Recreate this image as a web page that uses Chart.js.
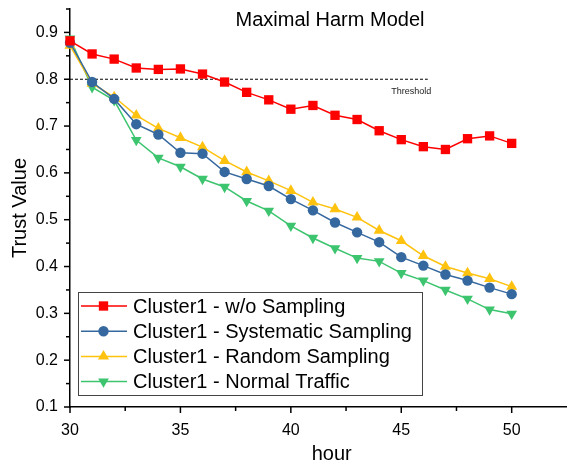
<!DOCTYPE html>
<html>
<head>
<meta charset="utf-8">
<title>Maximal Harm Model</title>
<script src="https://cdn.jsdelivr.net/npm/chart.js@4.4.1/dist/chart.umd.min.js"></script>
<style>
  html, body { margin: 0; padding: 0; background: #fff; overflow: hidden; }
  #wrap { width: 600px; height: 466px; }
</style>
</head>
<body>
<div id="wrap"><canvas id="trustChart" width="600" height="466"></canvas></div>
<script>
// hours on the x axis
const hours = [30, 31, 32, 33, 34, 35, 36, 37, 38, 39, 40, 41, 42, 43, 44, 45, 46, 47, 48, 49, 50];

// trust values
const woSampling = [0.882, 0.854, 0.843, 0.824, 0.821, 0.822, 0.811, 0.794, 0.772, 0.756, 0.736, 0.744, 0.723, 0.714, 0.690, 0.671, 0.656, 0.650, 0.673, 0.679, 0.663];
const systematicSampling = [0.878, 0.794, 0.758, 0.704, 0.682, 0.643, 0.641, 0.602, 0.587, 0.572, 0.544, 0.520, 0.494, 0.473, 0.452, 0.420, 0.402, 0.383, 0.370, 0.355, 0.341];
const randomSampling = [0.872, 0.791, 0.762, 0.723, 0.695, 0.675, 0.655, 0.626, 0.602, 0.583, 0.562, 0.537, 0.523, 0.505, 0.477, 0.455, 0.423, 0.400, 0.386, 0.374, 0.357];
const normalTraffic = [0.887, 0.783, 0.755, 0.670, 0.632, 0.613, 0.587, 0.570, 0.540, 0.519, 0.487, 0.461, 0.439, 0.418, 0.411, 0.386, 0.370, 0.350, 0.331, 0.308, 0.299];

// threshold line
const thresholdX = [30, 46.2];
const thresholdY = [0.8, 0.8];

const seriesLabels = [
  'Cluster1 - w/o Sampling',
  'Cluster1 - Systematic Sampling',
  'Cluster1 - Random Sampling',
  'Cluster1 - Normal Traffic'
];

const FONT = "'Liberation Sans', Arial, sans-serif";

function toPoints(xs, ys) {
  return xs.map((x, i) => ({ x: x, y: ys[i] }));
}

function series(label, values, color, style, radius, rotation) {
  return {
    label: label,
    data: toPoints(hours, values),
    borderColor: color,
    backgroundColor: color,
    borderWidth: 1.5,
    pointStyle: style,
    pointRadius: radius,
    pointRotation: rotation || 0,
    pointBorderWidth: 0,
    pointBackgroundColor: color,
    clip: false,
    tension: 0
  };
}

// legend marker, same shapes as chart.js draws for the points
function marker(ctx, ds, x, y) {
  const r = ds.pointRadius;
  ctx.fillStyle = ds.pointBackgroundColor;
  ctx.beginPath();
  if (ds.pointStyle === 'rect') {
    const s = Math.SQRT1_2 * r;
    ctx.rect(x - s, y - s, 2 * s, 2 * s);
  } else if (ds.pointStyle === 'circle') {
    ctx.arc(x, y, r, 0, Math.PI * 2);
  } else {
    const rot = (ds.pointRotation || 0) * Math.PI / 180;
    for (let k = 0; k < 3; k++) {
      const a = rot + k * 2 * Math.PI / 3;
      const px = x + Math.sin(a) * r;
      const py = y - Math.cos(a) * r;
      if (k === 0) ctx.moveTo(px, py); else ctx.lineTo(px, py);
    }
    ctx.closePath();
  }
  ctx.fill();
}

const extrasPlugin = {
  id: 'extras',
  afterDraw(chart) {
    const ctx = chart.ctx;
    const area = chart.chartArea;
    const xs = chart.scales.x;
    const ys = chart.scales.y;
    ctx.save();

    // tick marks, long on labelled ticks
    ctx.strokeStyle = '#000';
    ctx.lineWidth = 1.5;
    xs.ticks.forEach(t => {
      const px = xs.getPixelForValue(t.value);
      const major = Math.abs(t.value / 5 - Math.round(t.value / 5)) < 1e-6;
      ctx.beginPath();
      ctx.moveTo(px, area.bottom);
      ctx.lineTo(px, area.bottom + (major ? 6 : 4));
      ctx.stroke();
    });
    ys.ticks.forEach(t => {
      const py = ys.getPixelForValue(t.value);
      const major = Math.round(t.value * 100) % 10 === 0;
      ctx.beginPath();
      ctx.moveTo(area.left, py);
      ctx.lineTo(area.left - (major ? 6 : 4), py);
      ctx.stroke();
    });

    // chart title
    ctx.fillStyle = '#000';
    ctx.font = '20px ' + FONT;
    ctx.textAlign = 'center';
    ctx.textBaseline = 'alphabetic';
    ctx.fillText('Maximal Harm Model', 330, 26);

    // threshold label
    const tx = xs.getPixelForValue(thresholdX[1]);
    const ty = ys.getPixelForValue(thresholdY[1]);
    ctx.font = '9px ' + FONT;
    ctx.fillStyle = '#222';
    ctx.textAlign = 'right';
    ctx.textBaseline = 'middle';
    ctx.fillText('Threshold', tx + 3.5, ty + 12);

    // legend box
    const box = { left: 78.5, top: 292.5, right: 422.5, bottom: 395.5 };
    ctx.fillStyle = '#fff';
    ctx.fillRect(box.left, box.top, box.right - box.left, box.bottom - box.top);
    ctx.strokeStyle = '#444';
    ctx.lineWidth = 1;
    ctx.strokeRect(box.left, box.top, box.right - box.left, box.bottom - box.top);

    ctx.font = '20px ' + FONT;
    ctx.textAlign = 'left';
    ctx.textBaseline = 'middle';
    for (let i = 0; i < 4; i++) {
      const ds = chart.data.datasets[i];
      const rowY = 306 + i * 25.2;
      ctx.strokeStyle = ds.borderColor;
      ctx.lineWidth = 1.5;
      ctx.beginPath();
      ctx.moveTo(81, rowY);
      ctx.lineTo(127, rowY);
      ctx.stroke();
      marker(ctx, ds, 103.5, rowY);
      ctx.fillStyle = '#000';
      ctx.fillText(ds.label, 133, rowY + 1);
    }
    ctx.restore();
  }
};

const ctx = document.getElementById('trustChart').getContext('2d');

new Chart(ctx, {
  type: 'line',
  data: {
    datasets: [
      series(seriesLabels[0], woSampling, '#ff0000', 'rect', 6.6),
      series(seriesLabels[1], systematicSampling, '#35689f', 'circle', 5.2),
      series(seriesLabels[2], randomSampling, '#ffc20e', 'triangle', 6.4),
      series(seriesLabels[3], normalTraffic, '#3cc46f', 'triangle', 6.2, 180),
      {
        label: 'Threshold',
        data: toPoints(thresholdX, thresholdY),
        borderColor: '#000',
        borderWidth: 1,
        borderDash: [3, 2],
        pointRadius: 0,
        clip: false
      }
    ]
  },
  options: {
    responsive: false,
    animation: false,
    layout: { padding: { top: 9, right: 0, left: 0, bottom: 0 } },
    plugins: {
      legend: { display: false },
      tooltip: { enabled: false }
    },
    scales: {
      x: {
        type: 'linear',
        min: 30,
        max: 53.7,
        border: { display: true, color: '#000', width: 1.5 },
        grid: { display: true, drawOnChartArea: false, drawTicks: false },
        ticks: {
          stepSize: 2.5,
          autoSkip: false,
          maxRotation: 0,
          padding: 14,
          color: '#000',
          font: { family: FONT, size: 16 },
          callback: v => (Math.abs(v % 5) < 1e-6 ? String(v) : '')
        },
        title: {
          display: true,
          text: 'hour',
          color: '#000',
          font: { family: FONT, size: 20 },
          padding: { top: 0, bottom: 0 }
        },
        afterFit: scale => {
          scale.height = 59;
          scale.paddingLeft = 0;
          scale.paddingRight = 0;
        }
      },
      y: {
        min: 0.1,
        max: 0.95,
        border: { display: true, color: '#000', width: 1.5 },
        grid: { display: true, drawOnChartArea: false, drawTicks: false },
        ticks: {
          stepSize: 0.05,
          autoSkip: false,
          padding: 12,
          color: '#000',
          font: { family: FONT, size: 16 },
          callback: v => (Math.round(v * 100) % 10 === 0 ? v.toFixed(1) : '')
        },
        title: {
          display: true,
          text: 'Trust Value',
          color: '#000',
          font: { family: FONT, size: 20 },
          padding: { top: 8, bottom: 0 }
        },
        afterFit: scale => {
          scale.width = 70;
          scale.paddingTop = 0;
          scale.paddingBottom = 0;
        }
      }
    }
  },
  plugins: [extrasPlugin]
});
</script>
</body>
</html>
